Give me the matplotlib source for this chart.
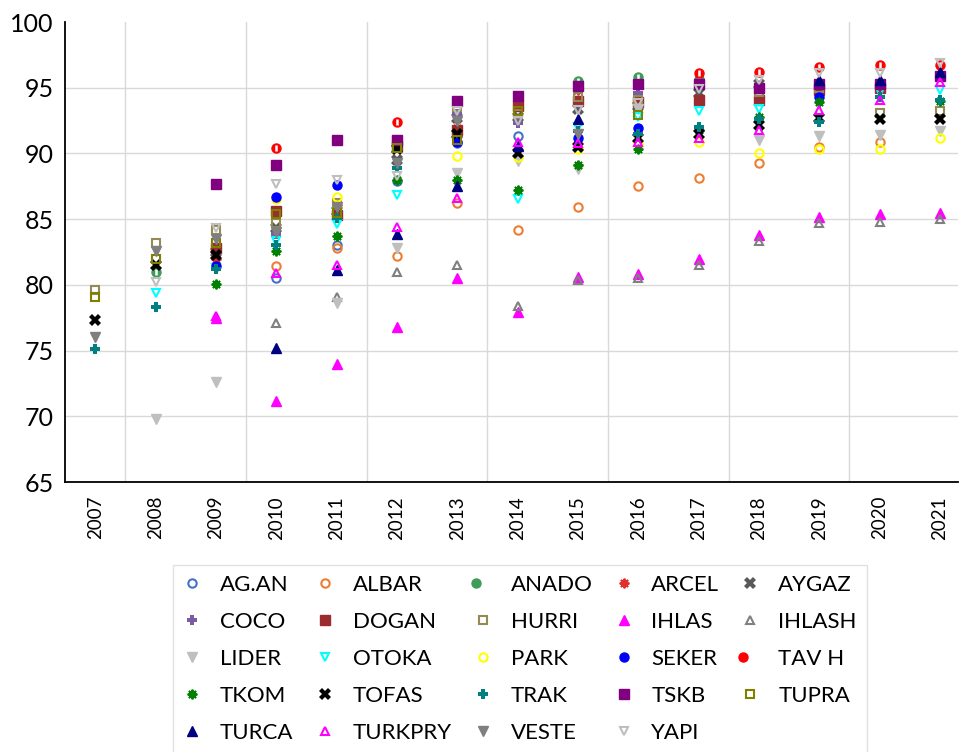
import numpy as np
import matplotlib
matplotlib.use("Agg")
import matplotlib.pyplot as plt
from matplotlib.legend_handler import HandlerTuple

plt.rcParams['font.family'] = ['Lato', 'DejaVu Sans']

nan = np.nan
years = list(range(2007, 2022))

# values per company, 2007 .. 2021 (nan = no observation)
AG_AN   = [nan, nan, nan, 80.5, 83.0, 87.9, 90.8, 91.3, nan, nan, nan, nan, nan, nan, nan]
ALBAR   = [nan, nan, nan, 81.4, 82.8, 82.2, 86.2, 84.2, 85.9, 87.5, 88.1, 89.3, 90.5, 90.9, nan]
ANADO   = [nan, 81.0, nan, nan, nan, nan, nan, nan, 95.5, 95.8, 95.7, nan, nan, nan, nan]
ARCEL   = [nan, nan, 82.0, 85.6, 86.1, 90.8, 91.9, 93.9, 94.8, nan, nan, nan, nan, nan, nan]
AYGAZ   = [nan, nan, 82.5, 84.3, 85.6, 89.5, 92.7, 92.8, 93.4, 93.6, 94.6, 95.3, nan, nan, nan]
COCO    = [nan, nan, nan, 83.9, nan, nan, 93.0, 92.3, 93.8, 94.6, nan, nan, nan, nan, nan]
DOGAN   = [nan, nan, 82.8, 85.6, 85.3, 90.6, 91.8, 93.6, 94.0, 93.9, 94.1, 94.1, 94.8, 95.0, nan]
HURRI   = [79.6, 83.2, 84.2, 84.7, 86.2, 91.0, 93.5, 93.0, 94.3, 94.1, nan, 94.7, 95.0, 93.1, 93.2]
IHLAS   = [nan, nan, 77.5, 71.2, 74.0, 76.8, 80.5, 77.9, 80.6, 80.8, 82.0, 83.8, 85.2, 85.4, 85.5]
IHLASH  = [nan, nan, nan, 77.1, 79.1, 81.0, 81.5, 78.4, 80.4, 80.5, 81.5, 83.3, 84.7, 84.8, 85.0]
LIDER   = [nan, 69.8, 72.6, nan, 78.6, 82.8, 88.5, 89.4, 88.8, 93.4, nan, 91.0, 91.3, 91.4, 91.7]
OTOKA   = [nan, 79.4, 81.3, 83.3, 84.6, 86.8, nan, 86.5, 92.0, 92.8, 93.2, 93.4, nan, 94.7, 94.8]
PARK    = [nan, nan, nan, 86.5, 86.7, nan, 89.8, 89.7, 90.3, 90.7, 90.9, 90.0, 90.3, 90.3, 91.2]
SEKER   = [nan, nan, 81.4, 86.7, 87.6, nan, 90.9, nan, 91.2, 91.9, nan, nan, 94.3, nan, nan]
TAV_H   = [nan, nan, nan, 90.4, nan, 92.4, nan, nan, nan, nan, 96.1, 96.2, 96.6, 96.7, 96.7]
TKOM    = [nan, nan, 80.1, 82.6, 83.7, 88.0, 88.0, 87.2, 89.1, 90.3, 91.8, 92.8, 93.9, nan, 94.0]
TOFAS   = [77.3, 81.5, 82.3, nan, nan, 90.3, 91.5, 90.0, 90.5, 91.2, 91.5, 92.2, 92.7, 92.6, 92.6]
TRAK    = [75.1, 78.3, 81.2, 83.0, 85.1, 88.9, nan, nan, 91.7, 91.5, 92.0, 92.6, 92.4, 94.3, 94.1]
TSKB    = [nan, nan, 87.7, 89.1, 91.0, 91.0, 94.0, 94.4, 95.1, 95.3, 95.3, 95.0, 95.3, 95.3, 95.9]
TUPRA   = [79.1, 82.0, 83.2, 85.4, 85.5, 90.4, 91.0, 93.2, nan, 92.9, nan, nan, nan, nan, nan]
TURCA   = [nan, nan, nan, 75.2, 81.1, 83.9, 87.5, 90.6, 92.6, nan, nan, nan, 95.6, 95.6, 96.2]
TURKPRY = [nan, nan, 77.6, 80.9, 81.5, 84.4, 86.6, 90.9, 90.8, 90.9, 91.2, 91.8, 93.3, 94.1, 95.4]
VESTE   = [76.0, 82.6, 83.5, 84.0, 85.9, 89.3, 92.5, nan, 91.5, nan, nan, nan, nan, nan, nan]
YAPI    = [nan, 80.2, 84.3, 87.7, 88.0, 88.3, 93.2, 92.5, 93.3, 93.8, 94.9, 95.6, 96.1, 96.1, 96.9]

# name, values, marker, colour, filled
series = [
    ("AG.AN", AG_AN, "o", "#4472C4", False),
    ("ALBAR", ALBAR, "o", "#ED7D31", False),
    ("ANADO", ANADO, "bar", "#3E9B5A", True),
    ("ARCEL", ARCEL, "star", "#E0302E", True),
    ("AYGAZ", AYGAZ, "X", "#595959", True),
    ("COCO", COCO, "P", "#7B5AA6", True),
    ("DOGAN", DOGAN, "s", "#9B2D30", True),
    ("HURRI", HURRI, "s", "#948A54", False),
    ("IHLAS", IHLAS, "^", "#FF00FF", True),
    ("IHLASH", IHLASH, "^", "#808080", False),
    ("LIDER", LIDER, "v", "#BFBFBF", True),
    ("OTOKA", OTOKA, "v", "#00FFFF", False),
    ("PARK", PARK, "o", "#FFFF00", False),
    ("SEKER", SEKER, "o", "#0000FF", True),
    ("TAV H", TAV_H, "bar", "#FF0000", True),
    ("TKOM", TKOM, "star", "#008000", True),
    ("TOFAS", TOFAS, "X", "#000000", True),
    ("TRAK", TRAK, "P", "#008080", True),
    ("TSKB", TSKB, "s", "#800080", True),
    ("TUPRA", TUPRA, "s", "#808000", False),
    ("TURCA", TURCA, "^", "#000080", True),
    ("TURKPRY", TURKPRY, "^", "#FF00FF", False),
    ("VESTE", VESTE, "v", "#7F7F7F", True),
    ("YAPI", YAPI, "v", "#BFBFBF", False),
]

fig = plt.figure(figsize=(9.6, 7.52), dpi=100)
ax = fig.add_axes([65/960, 1 - 482/752, 893/960, 460/752])

x = np.array(years, dtype=float)
handles = []
labels = []
for name, vals, mk, col, filled in series:
    y = np.array(vals, dtype=float)
    if mk == "bar":
        # circle with a white stroke through it
        h1, = ax.plot(x, y, ls="none", marker="o", ms=6.5, mfc=col, mec=col)
        h2, = ax.plot(x, y, ls="none", marker="|", ms=5, mew=1.8, color="white")
        h = (h1, h2)
    elif mk == "star":
        h, = ax.plot(x, y, ls="none", marker=(8, 2, 0), ms=7, mew=1.4, color=col)
    elif mk == "X":
        h, = ax.plot(x, y, ls="none", marker=mk, ms=8, mfc=col, mec=col, mew=0)
    elif mk == "P":
        h, = ax.plot(x, y, ls="none", marker=mk, ms=7.5, mfc=col, mec=col, mew=0)
    elif filled:
        h, = ax.plot(x, y, ls="none", marker=mk, ms=6.5, mfc=col, mec=col)
    else:
        h, = ax.plot(x, y, ls="none", marker=mk, ms=6, mfc="none", mec=col, mew=1.5)
    handles.append(h)
    labels.append(name)

ax.set_xlim(2006.5, 2021.3)
ax.set_ylim(65, 100)
for yv in range(70, 100, 5):
    ax.axhline(yv, color="#D9D9D9", lw=1, zorder=0)
for xv in np.arange(2007.5, 2021, 2):
    ax.axvline(xv, color="#D9D9D9", lw=1, zorder=0)

ax.set_xticks(years)
ax.set_xticklabels([str(v) for v in years], rotation=90, fontsize=13.5)
ax.set_yticks(range(65, 101, 5))
ax.tick_params(axis="y", labelsize=18, length=0, pad=8)
ax.tick_params(axis="x", length=0, pad=10)
for s in ("top", "right"):
    ax.spines[s].set_visible(False)
for s in ("left", "bottom"):
    ax.spines[s].set_linewidth(1.3)

# legend reads row by row, matplotlib fills column by column
order = [r * 5 + c for c in range(5) for r in range(5) if r * 5 + c < len(handles)]
leg = fig.legend([handles[i] for i in order], [labels[i] for i in order],
                 ncol=5, loc="upper center", bbox_to_anchor=(520/960, 1 - 554/752),
                 fontsize=16, frameon=True, fancybox=False, edgecolor="#D9D9D9",
                 handler_map={tuple: HandlerTuple(ndivide=None)},
                 handlelength=0.8, handletextpad=0.85, columnspacing=1.0,
                 labelspacing=0.76, borderpad=0.45, numpoints=1)
leg.get_frame().set_linewidth(1.0)

fig.savefig("out.png", dpi=100)
